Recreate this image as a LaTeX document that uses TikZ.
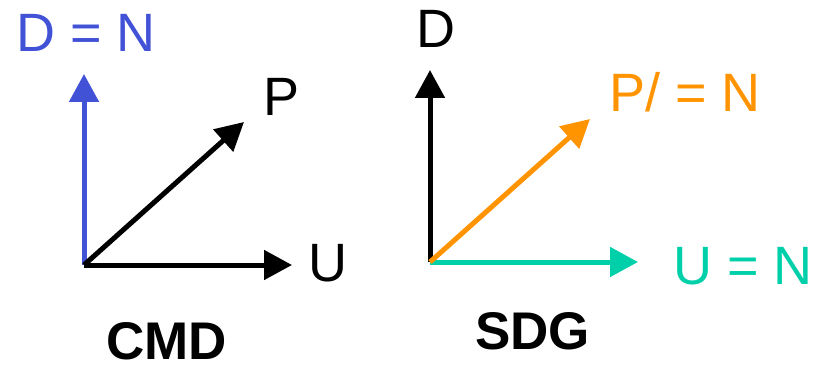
\documentclass[tikz,border=0pt]{standalone}
\usepackage{fontspec}
\setmainfont{Liberation Sans}
\usetikzlibrary{arrows.meta}
\definecolor{vblue}{RGB}{66,82,215}
\definecolor{vorange}{RGB}{255,148,0}
\definecolor{vteal}{RGB}{0,208,170}
\begin{document}
\begin{tikzpicture}[x=1pt,y=-1pt,
  vec/.style={line width=5pt,-{Triangle[length=28pt,width=29pt]}},
  lab/.style={inner sep=0pt,anchor=base west,font=\fontsize{54}{60}\selectfont},
  title/.style={inner sep=0pt,anchor=base west,text depth=0pt,font=\fontsize{53}{60}\selectfont\bfseries}]
\useasboundingbox (0,0) rectangle (816,366);
% left
\coordinate (o1) at (84,265);
\coordinate (d1) at (84,74);
\coordinate (p1) at (244,122);
\coordinate (u1) at (292,265);
\draw[vec,vblue] (o1) -- (d1);
\draw[vec,black] (o1) -- (p1);
\draw[vec,black] (o1) -- (u1);
\node[lab,text=vblue] (ld1) at (16,52) {D = N};
\node[lab] (lp1) at (263,116) {P};
\node[lab] (lu1) at (308,281) {U};
\node[title] (t1) at (106,359) {CMD};
% right
\coordinate (o2) at (430,262);
\coordinate (d2) at (430,70);
\coordinate (p2) at (590,119);
\coordinate (u2) at (638,262);
\draw[vec,black] (o2) -- (d2);
\draw[vec,vteal] (o2) -- (u2);
\draw[vec,vorange] (o2) -- (p2);
\node[lab] (ld2) at (416,48) {D};
\node[lab,text=vorange] (lp2) at (609,112) {P/ = N};
\node[lab,text=vteal] (lu2) at (673,284) {U = N};
\node[title] (t2) at (475,349) {SDG};
\end{tikzpicture}
\end{document}
